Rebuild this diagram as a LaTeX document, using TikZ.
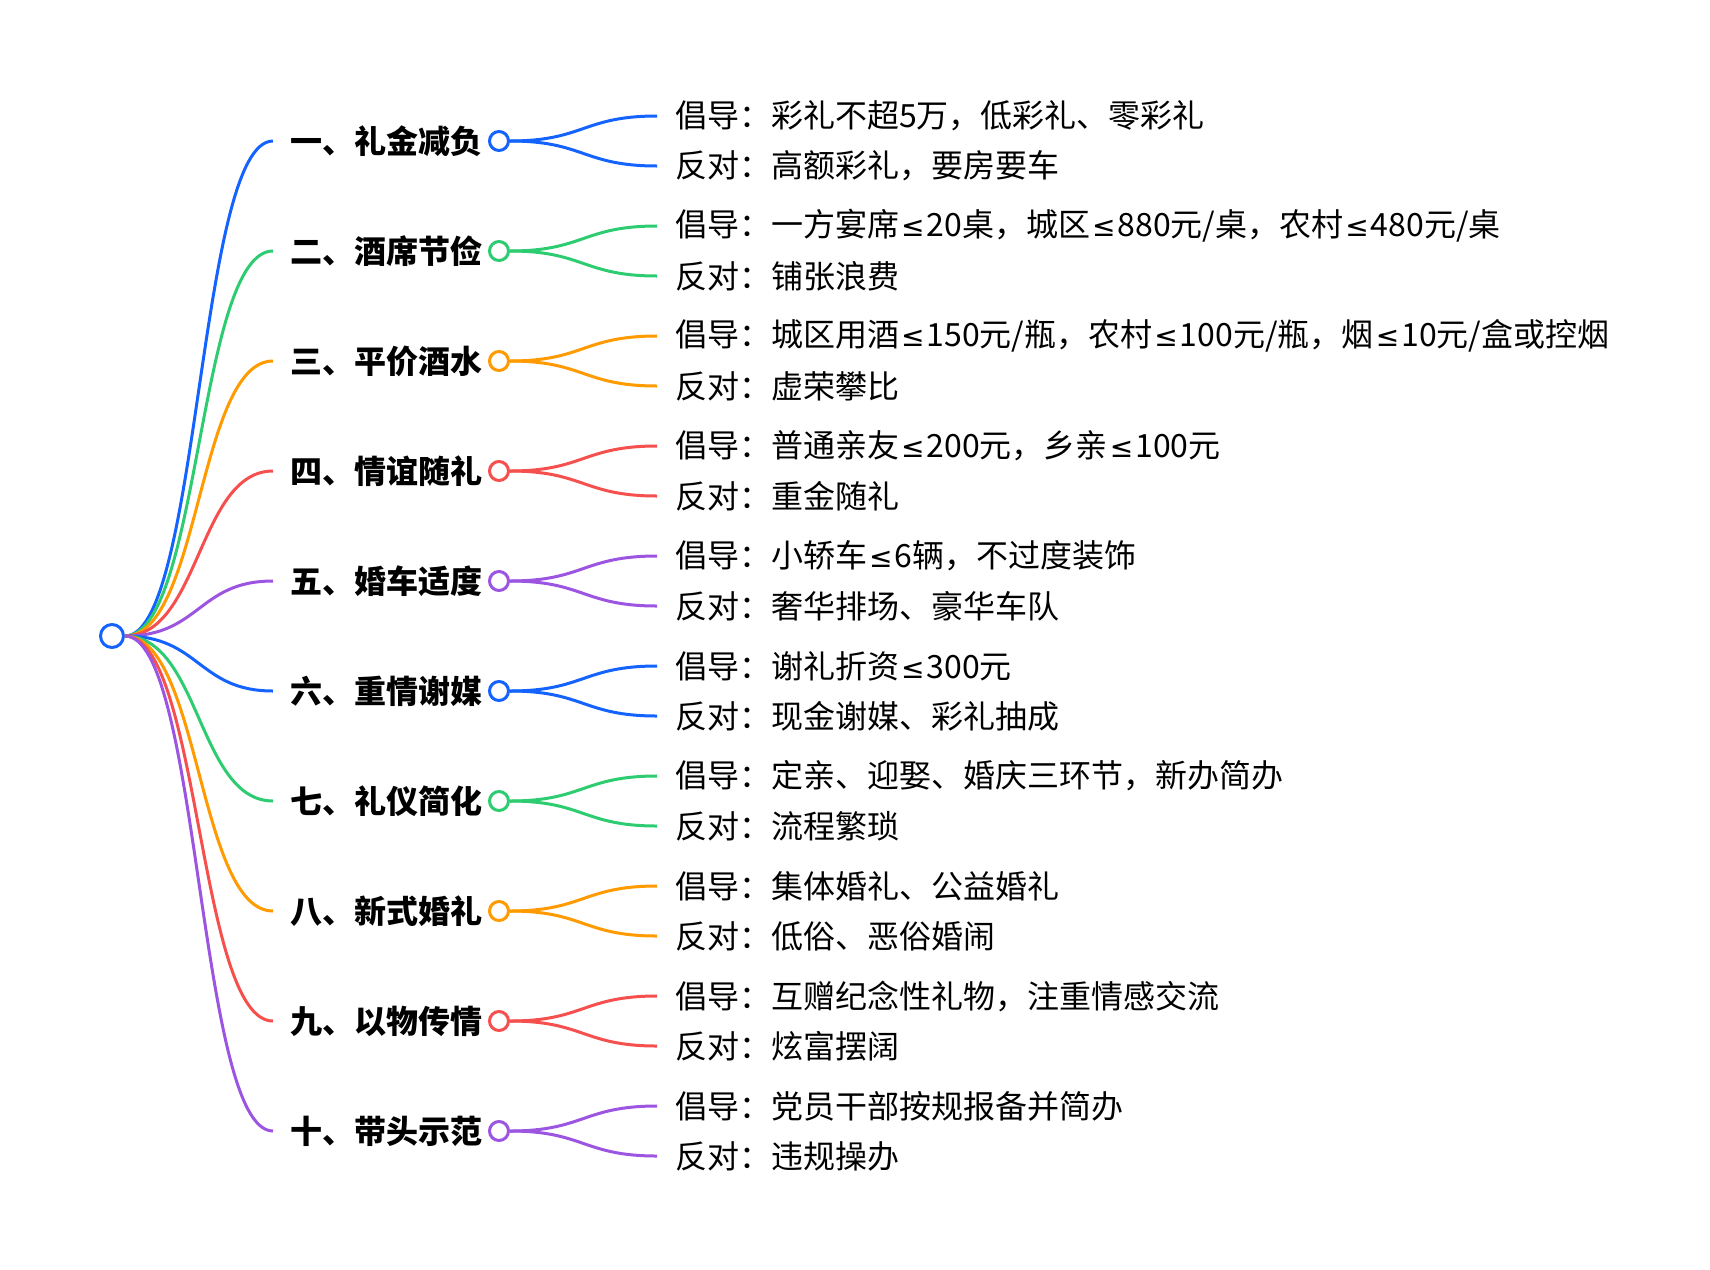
\documentclass[tikz,border=0pt]{standalone}
\usepackage{fontspec}
\setmainfont{Noto Sans CJK SC}
\newfontfamily\lefont{DejaVu Sans}
\newcommand\lte{\kern2pt{\lefont\fontsize{28}{38}\selectfont ≤}\kern2pt}
\definecolor{mblue}{HTML}{1463FF}
\definecolor{mgreen}{HTML}{2ECC71}
\definecolor{morange}{HTML}{FF9A00}
\definecolor{mred}{HTML}{F5504E}
\definecolor{mpurple}{HTML}{9B55E0}
\begin{document}
\begin{tikzpicture}[x=1pt, y=-1pt,
  hub/.style={circle, draw, line width=3pt, fill=white, inner sep=0pt, minimum size=19pt},
  topic/.style={anchor=west, inner xsep=17pt, inner ysep=0pt, font=\fontsize{32}{38}\selectfont\bfseries},
  leaf/.style={anchor=west, inner xsep=18pt, inner ysep=0pt, font=\fontsize{32}{38}\selectfont},
  link/.style={line width=3pt}]
\useasboundingbox (0,0) rectangle (1710,1269);
\node[hub, draw=mblue, minimum size=23pt] (root) at (112,636) {};
\foreach \i/\col/\lbl/\pro/\con in {
  1/mblue/{一、礼金减负}/{彩礼不超5万，低彩礼、零彩礼}/{高额彩礼，要房要车},
  2/mgreen/{二、酒席节俭}/{一方宴席\lte20桌，城区\lte880元/桌，农村\lte480元/桌}/{铺张浪费},
  3/morange/{三、平价酒水}/{城区用酒\lte150元/瓶，农村\lte100元/瓶，烟\lte10元/盒或控烟}/{虚荣攀比},
  4/mred/{四、情谊随礼}/{普通亲友\lte200元，乡亲\lte100元}/{重金随礼},
  5/mpurple/{五、婚车适度}/{小轿车\lte6辆，不过度装饰}/{奢华排场、豪华车队},
  6/mblue/{六、重情谢媒}/{谢礼折资\lte300元}/{现金谢媒、彩礼抽成},
  7/mgreen/{七、礼仪简化}/{定亲、迎娶、婚庆三环节，新办简办}/{流程繁琐},
  8/morange/{八、新式婚礼}/{集体婚礼、公益婚礼}/{低俗、恶俗婚闹},
  9/mred/{九、以物传情}/{互赠纪念性礼物，注重情感交流}/{炫富摆阔},
  10/mpurple/{十、带头示范}/{党员干部按规报备并简办}/{违规操办}}{
  \pgfmathsetmacro\y{141+110*(\i-1)}
  \node[topic] (t\i) at (273,\y) {\lbl};
  \node[leaf] (p\i) at (657,\y-25) {倡导：\pro};
  \node[leaf] (c\i) at (657,\y+25) {反对：\con};
  \node[hub, draw=\col] (h\i) at (499,\y) {};
  \draw[link, \col] (root.east) .. controls +(75,0) and +(-75,0) .. (t\i.west);
  \draw[link, \col] (h\i.east) .. controls +(74,0) and +(-74,0) .. (p\i.west);
  \draw[link, \col] (h\i.east) .. controls +(74,0) and +(-74,0) .. (c\i.west);
}
\end{tikzpicture}
\end{document}
